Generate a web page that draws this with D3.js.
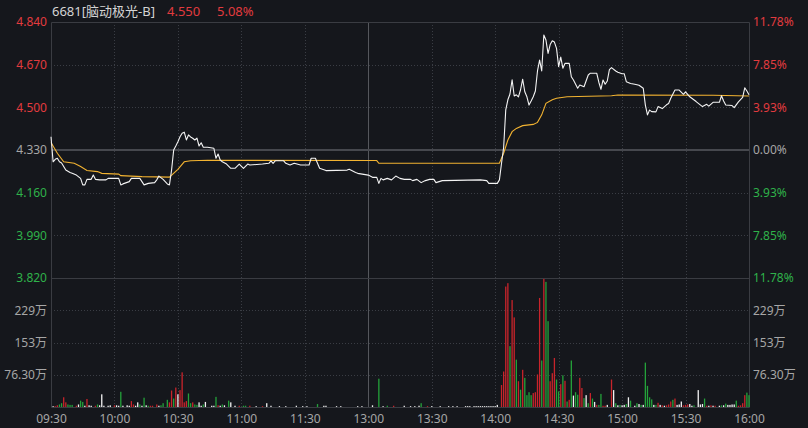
<!DOCTYPE html>
<html>
<head>
<meta charset="utf-8">
<script src="https://cdn.jsdelivr.net/npm/d3@7"></script>
<style>
  html, body { margin: 0; padding: 0; background: #15171c; }
  svg { display: block; font-family: "Noto Sans", "Noto Sans CJK SC", sans-serif; }
</style>
</head>
<body>
<svg id="chart" width="808" height="428"></svg>
<script>
/*****************************************************************************
 *  Data
 */
var STOCK_CODE = "6681";
var STOCK_NAME = "脑动极光-B";
var PREV_CLOSE = 4.330;
var LAST_PRICE = 4.550;

var PRICE_TICKS = [4.840, 4.670, 4.500, 4.330, 4.160, 3.990, 3.820];
var VOL_TICKS = [228.9, 152.6, 76.3];
var VOL_TICK_LABELS = ["229万", "153万", "76.30万"];
var TIME_TICKS = ["09:30", "10:00", "10:30", "11:00", "11:30", "13:00",
                  "13:30", "14:00", "14:30", "15:00", "15:30", "16:00"];

var priceTimes = ["09:30","09:31","09:32","09:33","09:34","09:35","09:36","09:37","09:39","09:40",
  "09:42","09:44","09:45","09:46","09:47","09:49","09:50","09:51","09:53","09:56",
  "09:57","10:02","10:03","10:04","10:07","10:08","10:12","10:13","10:14","10:16",
  "10:19","10:20","10:21","10:23","10:25","10:26","10:27","10:28","10:29","10:30",
  "10:31","10:32","10:33","10:34","10:35","10:36","10:37","10:38","10:39","10:40",
  "10:41","10:42","10:44","10:47","10:48","10:49","10:50","10:51","10:53","10:55",
  "10:57","10:59","11:01","11:03","11:04","11:10","11:13","11:14","11:15","11:16",
  "11:20","11:21","11:23","11:25","11:28","11:32","11:33","11:35","11:36","11:37",
  "11:40","11:50","11:51","11:54","11:55","12:00","13:02","13:04","13:05","13:06",
  "13:07","13:09","13:11","13:13","13:15","13:17","13:20","13:21","13:23","13:25",
  "13:27","13:29","13:31","13:32","13:35","13:53","13:56","13:57","14:01","14:02",
  "14:03","14:04","14:05","14:06","14:07","14:08","14:09","14:10","14:11","14:12",
  "14:13","14:14","14:15","14:16","14:17","14:18","14:19","14:20","14:21","14:22",
  "14:23","14:24","14:25","14:26","14:27","14:28","14:29","14:30","14:31","14:32",
  "14:33","14:35","14:36","14:37","14:39","14:40","14:42","14:44","14:45","14:48",
  "14:49","14:50","14:51","14:52","14:53","14:54","14:55","14:57","14:58","15:00",
  "15:01","15:02","15:04","15:06","15:08","15:09","15:10","15:11","15:12","15:13",
  "15:14","15:16","15:17","15:19","15:21","15:22","15:23","15:25","15:27","15:29",
  "15:30","15:32","15:35","15:38","15:40","15:41","15:43","15:46","15:47","15:48",
  "15:49","15:52","15:53","15:55","15:57","15:58","15:59","16:00"];
var priceValues = [4.383,4.283,4.293,4.297,4.283,4.278,4.264,4.250,4.240,4.237,
  4.230,4.217,4.191,4.191,4.213,4.213,4.230,4.213,4.211,4.211,
  4.217,4.217,4.191,4.195,4.204,4.217,4.217,4.204,4.191,4.197,
  4.200,4.211,4.226,4.213,4.195,4.191,4.250,4.330,4.346,4.363,
  4.383,4.397,4.401,4.370,4.390,4.382,4.377,4.370,4.377,4.346,
  4.359,4.341,4.341,4.337,4.297,4.314,4.290,4.283,4.274,4.257,
  4.257,4.274,4.257,4.274,4.270,4.274,4.277,4.287,4.277,4.287,
  4.287,4.277,4.270,4.277,4.270,4.270,4.297,4.297,4.277,4.257,
  4.248,4.250,4.253,4.240,4.237,4.230,4.221,4.221,4.197,4.217,
  4.211,4.217,4.211,4.226,4.217,4.213,4.213,4.208,4.213,4.200,
  4.208,4.213,4.213,4.200,4.208,4.211,4.208,4.197,4.197,4.211,
  4.277,4.340,4.490,4.530,4.553,4.610,4.545,4.550,4.542,4.570,
  4.612,4.562,4.542,4.509,4.525,4.542,4.565,4.645,4.688,4.645,
  4.788,4.768,4.715,4.750,4.765,4.760,4.735,4.662,4.700,4.656,
  4.675,4.675,4.622,4.609,4.576,4.589,4.582,4.629,4.636,4.636,
  4.600,4.572,4.609,4.592,4.605,4.650,4.658,4.645,4.640,4.634,
  4.634,4.602,4.595,4.592,4.588,4.582,4.576,4.509,4.470,4.489,
  4.483,4.482,4.503,4.495,4.510,4.515,4.536,4.569,4.569,4.552,
  4.562,4.542,4.523,4.503,4.512,4.505,4.520,4.520,4.546,4.525,
  4.509,4.507,4.499,4.522,4.540,4.578,4.565,4.550];

var avgTimes = ["09:30","09:33","09:36","09:41","09:44","09:47","09:52","09:54","10:02","10:03",
  "10:13","10:26","10:30","10:33","10:36","10:44","13:04","13:05","14:02","14:04",
  "14:06","14:08","14:10","14:13","14:18","14:20","14:22","14:24","14:27","14:29",
  "14:34","14:55","14:58","15:43","16:00"];
var avgValues = [4.360,4.317,4.283,4.277,4.264,4.248,4.244,4.237,4.234,4.228,
  4.224,4.222,4.253,4.283,4.287,4.289,4.288,4.277,4.277,4.317,
  4.370,4.403,4.416,4.427,4.432,4.440,4.470,4.516,4.530,4.536,
  4.542,4.546,4.549,4.548,4.545];

// volume in 万 shares; direction: u = up, d = down, e = unchanged
var volTimes = ["09:31","09:32","09:33","09:34","09:35","09:36","09:37","09:38","09:39","09:40",
  "09:42","09:43","09:44","09:45","09:46","09:47","09:48","09:49","09:51","09:52",
  "09:53","09:54","09:55","09:57","09:58","10:00","10:01","10:02","10:03","10:04",
  "10:06","10:07","10:08","10:09","10:10","10:11","10:12","10:13","10:14","10:15",
  "10:16","10:17","10:18","10:20","10:21","10:22","10:23","10:25","10:26","10:27",
  "10:28","10:29","10:30","10:31","10:32","10:33","10:34","10:35","10:36","10:37",
  "10:38","10:39","10:40","10:41","10:42","10:43","10:46","10:47","10:48","10:49",
  "10:50","10:51","10:52","10:54","10:55","10:57","10:59","11:01","11:02","11:04",
  "11:07","11:10","11:12","11:14","11:18","11:21","11:26","11:29","11:31","11:36",
  "11:39","11:40","11:45","11:47","11:55","11:57","13:02","13:05","13:07","13:09",
  "13:12","13:17","13:20","13:22","13:24","13:25","13:28","13:30","13:34","13:38",
  "13:40","13:42","13:46","13:47","13:48","13:50","13:51","13:52","13:53","13:54",
  "13:55","13:56","13:57","13:58","13:59","14:00","14:01","14:03","14:04","14:05",
  "14:06","14:07","14:08","14:09","14:10","14:11","14:12","14:13","14:14","14:15",
  "14:16","14:17","14:18","14:19","14:20","14:21","14:22","14:23","14:24","14:25",
  "14:26","14:27","14:28","14:29","14:30","14:31","14:32","14:33","14:34","14:35",
  "14:36","14:37","14:38","14:39","14:40","14:41","14:42","14:43","14:44","14:45",
  "14:46","14:47","14:48","14:49","14:50","14:51","14:52","14:53","14:55","14:56",
  "14:57","14:58","14:59","15:00","15:01","15:02","15:03","15:04","15:06","15:07",
  "15:08","15:09","15:10","15:11","15:12","15:13","15:14","15:15","15:16","15:17",
  "15:18","15:19","15:20","15:21","15:22","15:23","15:24","15:25","15:26","15:27",
  "15:28","15:29","15:30","15:31","15:32","15:33","15:34","15:36","15:37","15:38",
  "15:39","15:40","15:41","15:42","15:43","15:44","15:46","15:47","15:48","15:49",
  "15:50","15:51","15:52","15:53","15:54","15:55","15:56","15:57","15:58","15:59",
  "16:00"];
var volValues = [2,2,4,6,9,23,11,6,5,5,
  3,6,15,12,3,19,4,3,3,6,
  4,30,3,3,4,4,4,3,36,3,
  4,3,14,6,3,11,6,3,22,4,
  3,3,3,6,3,4,9,17,11,39,
  20,46,30,40,82,11,14,32,9,11,
  6,5,11,3,6,12,3,3,24,4,
  3,6,4,15,11,3,3,3,3,3,
  2,2,9,3,2,2,3,2,2,7,
  3,3,2,2,2,2,4,67,2,3,
  3,3,2,2,3,9,2,2,2,2,
  2,2,2,2,2,2,2,2,2,2,
  2,2,2,2,2,2,5,52,84,285,
  293,144,253,212,112,61,41,88,69,28,
  35,28,33,35,77,258,110,303,296,203,
  61,80,116,65,37,54,75,62,13,17,
  110,27,35,29,69,45,21,28,9,33,
  20,12,5,5,31,3,3,5,65,40,
  9,4,5,4,5,7,23,15,3,9,
  7,5,5,105,50,23,18,5,5,10,
  5,4,3,4,6,13,17,20,5,6,
  13,4,5,6,7,3,4,40,6,7,
  20,3,3,4,3,3,3,4,4,8,
  5,5,6,6,15,3,4,9,28,34,
  28];
var volDirs = ["e","u","u","d","d","u","u","d","d","d",
  "u","e","d","d","e","u","e","e","u","d",
  "e","e","e","e","e","u","e","e","d","e",
  "e","e","u","u","e","e","d","e","d","e",
  "d","u","u","u","e","d","d","d","u","u",
  "d","u","e","u","u","u","u","d","d","u",
  "d","d","e","e","d","e","e","e","d","u",
  "e","d","e","d","e","e","u","d","d","u",
  "e","u","e","e","e","e","e","e","e","d",
  "e","e","e","e","e","e","e","d","e","d",
  "u","e","e","e","e","d","u","e","e","e",
  "e","e","e","e","e","e","e","e","e","e",
  "e","e","e","e","e","e","e","u","u","u",
  "u","d","u","u","d","u","d","u","d","d",
  "d","d","u","u","u","u","d","u","d","d",
  "u","u","u","d","d","u","d","u","d","u",
  "d","e","d","d","u","u","d","e","d","u",
  "d","e","u","d","d","u","u","e","u","e",
  "d","e","d","e","e","d","e","d","e","d",
  "e","d","e","d","d","d","d","e","d","u",
  "e","u","e","u","u","u","d","u","e","e",
  "e","u","u","u","e","e","d","e","e","e",
  "d","u","e","u","e","u","e","d","e","d",
  "e","e","e","e","d","u","u","u","u","d",
  "d"];

/*****************************************************************************
 *  Layout / style constants
 */
var CANVAS_WIDTH = 808;
var CANVAS_HEIGHT = 428;
var PLOT_LEFT = 51;
var PLOT_RIGHT = 749;
var PRICE_TOP = 22;
var PANE_SPLIT = 278;
var VOL_BOTTOM = 407;
var SESSION_MINUTES = 330;
var VOL_MAX = 305.2;

var BG_COLOR = "#15171c";
var FRAME_COLOR = "#3a3c42";
var GRID_COLOR = "#3a3d44";
var NOON_COLOR = "#55575c";
var UP_COLOR = "#e23b3f";
var DOWN_COLOR = "#2fb24a";
var FLAT_COLOR = "#a6a6a6";
var BAR_UP = "#c8242b";
var BAR_DOWN = "#24a23a";
var BAR_FLAT = "#f2f2f2";
var PRICE_LINE_COLOR = "#f4f4f4";
var AVG_LINE_COLOR = "#f2b331";
var LABEL_FONT = 12;

// 09:30 -> 0 ... 12:00 / 13:00 -> 150 ... 16:00 -> 330
function sessionMinute(t) {
    var p = t.split(":");
    var tot = (+p[0]) * 60 + (+p[1]);
    return tot <= 720 ? tot - 570 : tot - 780 + 150;
}

var svg = d3.select("#chart");

var xScale = d3.scaleLinear().domain([0, SESSION_MINUTES]).range([PLOT_LEFT, PLOT_RIGHT]);
var yPrice = d3.scaleLinear().domain([PRICE_TICKS[PRICE_TICKS.length - 1], PRICE_TICKS[0]]).range([PANE_SPLIT, PRICE_TOP]);
var yVol = d3.scaleLinear().domain([0, VOL_MAX]).range([VOL_BOTTOM, PANE_SPLIT]);

svg.append("rect")
    .attr("width", CANVAS_WIDTH)
    .attr("height", CANVAS_HEIGHT)
    .attr("fill", BG_COLOR);

function priceColor(p) {
    if (Math.abs(p - PREV_CLOSE) < 1e-6) return FLAT_COLOR;
    return p > PREV_CLOSE ? UP_COLOR : DOWN_COLOR;
}

// Render gridlines
var gridG = svg.append("g").attr("class", "grid");

PRICE_TICKS.forEach(function (p) {
    if (p === PRICE_TICKS[0] || p === PRICE_TICKS[PRICE_TICKS.length - 1] || p === PREV_CLOSE) return;
    gridG.append("line")
        .attr("x1", PLOT_LEFT).attr("x2", PLOT_RIGHT)
        .attr("y1", Math.round(yPrice(p)) + 0.5).attr("y2", Math.round(yPrice(p)) + 0.5)
        .attr("stroke", GRID_COLOR)
        .attr("stroke-dasharray", "1,2");
});

VOL_TICKS.forEach(function (v) {
    gridG.append("line")
        .attr("x1", PLOT_LEFT).attr("x2", PLOT_RIGHT)
        .attr("y1", Math.round(yVol(v)) + 0.5).attr("y2", Math.round(yVol(v)) + 0.5)
        .attr("stroke", GRID_COLOR)
        .attr("stroke-dasharray", "1,2");
});

TIME_TICKS.forEach(function (t, i) {
    if (i === 0 || i === TIME_TICKS.length - 1) return;
    var xc = Math.round(xScale(sessionMinute(t))) + 0.5;
    var noon = (t === "13:00");
    gridG.append("line")
        .attr("x1", xc).attr("x2", xc)
        .attr("y1", PRICE_TOP).attr("y2", VOL_BOTTOM)
        .attr("stroke", noon ? NOON_COLOR : GRID_COLOR)
        .attr("stroke-dasharray", noon ? null : "1,2");
});

// Frame and previous close line
var frame = [
    [PLOT_LEFT, PRICE_TOP, PLOT_RIGHT, PRICE_TOP],
    [PLOT_LEFT, PANE_SPLIT, PLOT_RIGHT, PANE_SPLIT],
    [PLOT_LEFT, VOL_BOTTOM, PLOT_RIGHT, VOL_BOTTOM],
    [PLOT_LEFT, PRICE_TOP, PLOT_LEFT, VOL_BOTTOM],
    [PLOT_RIGHT, PRICE_TOP, PLOT_RIGHT, VOL_BOTTOM]
];
gridG.selectAll(".frame")
    .data(frame)
    .enter()
    .append("line")
    .attr("class", "frame")
    .attr("x1", d => d[0] + 0.5).attr("y1", d => d[1] + 0.5)
    .attr("x2", d => d[2] + 0.5).attr("y2", d => d[3] + 0.5)
    .attr("stroke", FRAME_COLOR);

gridG.append("line")
    .attr("x1", PLOT_LEFT).attr("x2", PLOT_RIGHT)
    .attr("y1", yPrice(PREV_CLOSE)).attr("y2", yPrice(PREV_CLOSE))
    .attr("stroke", "#46484e")
    .attr("stroke-width", 2);

// Render volume bars
var vols = volTimes.map((t, i) => ({ m: sessionMinute(t), v: volValues[i], dir: volDirs[i] }));
svg.append("g").selectAll("rect")
    .data(vols)
    .enter()
    .append("rect")
    .attr("x", d => xScale(d.m) - 0.65)
    .attr("width", 1.3)
    .attr("y", d => yVol(d.v))
    .attr("height", d => VOL_BOTTOM - yVol(d.v))
    .attr("fill", d => d.dir === "u" ? BAR_UP : (d.dir === "d" ? BAR_DOWN : BAR_FLAT));

// Render average and price lines
var avgData = avgTimes.map((t, i) => [sessionMinute(t), avgValues[i]]);
var priceData = priceTimes.map((t, i) => [sessionMinute(t), priceValues[i]]);
var lineGenerator = d3.line()
    .x(d => xScale(d[0]))
    .y(d => yPrice(d[1]));

svg.append("path")
    .attr("d", lineGenerator(avgData))
    .attr("fill", "none")
    .attr("stroke", AVG_LINE_COLOR)
    .attr("stroke-width", 1.1);

svg.append("path")
    .attr("d", lineGenerator(priceData))
    .attr("fill", "none")
    .attr("stroke", PRICE_LINE_COLOR)
    .attr("stroke-width", 1.1)
    .attr("stroke-linejoin", "round");

// Axes
var leftPriceAxis = d3.axisLeft(yPrice)
    .tickValues(PRICE_TICKS)
    .tickFormat(d3.format(".3f"))
    .tickSize(0)
    .tickPadding(4);
var gLP = svg.append("g")
    .attr("transform", "translate(" + PLOT_LEFT + ",0)")
    .call(leftPriceAxis);

var rightPctAxis = d3.axisRight(yPrice)
    .tickValues(PRICE_TICKS)
    .tickFormat(p => (Math.abs(p - PREV_CLOSE) / PREV_CLOSE * 100).toFixed(2) + "%")
    .tickSize(0)
    .tickPadding(4);
var gRP = svg.append("g")
    .attr("transform", "translate(" + PLOT_RIGHT + ",0)")
    .call(rightPctAxis);

[gLP, gRP].forEach(function (g) {
    g.selectAll("text").attr("fill", d => priceColor(d));
});

var volAxisL = d3.axisLeft(yVol)
    .tickValues(VOL_TICKS)
    .tickFormat((d, i) => VOL_TICK_LABELS[i])
    .tickSize(0)
    .tickPadding(4);
var gLV = svg.append("g")
    .attr("transform", "translate(" + PLOT_LEFT + ",0)")
    .call(volAxisL);
var volAxisR = d3.axisRight(yVol)
    .tickValues(VOL_TICKS)
    .tickFormat((d, i) => VOL_TICK_LABELS[i])
    .tickSize(0)
    .tickPadding(4);
var gRV = svg.append("g")
    .attr("transform", "translate(" + PLOT_RIGHT + ",0)")
    .call(volAxisR);

var timeAxis = d3.axisBottom(xScale)
    .tickValues(TIME_TICKS.map(sessionMinute))
    .tickFormat((d, i) => TIME_TICKS[i])
    .tickSize(0)
    .tickPadding(7);
var gT = svg.append("g")
    .attr("transform", "translate(0," + VOL_BOTTOM + ")")
    .call(timeAxis);

[gLP, gRP, gLV, gRV, gT].forEach(function (g) {
    g.select(".domain").remove();
    g.attr("font-family", null).attr("font-size", LABEL_FONT);
});
[gLV, gRV, gT].forEach(function (g) {
    g.selectAll("text").attr("fill", FLAT_COLOR);
});

// Header
var header = svg.append("text")
    .attr("x", PLOT_LEFT + 1)
    .attr("y", 15.5)
    .attr("font-size", 13);
header.append("tspan")
    .attr("fill", "#d4d4d4")
    .text(STOCK_CODE + "[" + STOCK_NAME + "]");
header.append("tspan")
    .attr("x", 167)
    .attr("fill", priceColor(LAST_PRICE))
    .text(LAST_PRICE.toFixed(3));
header.append("tspan")
    .attr("x", 217)
    .attr("fill", priceColor(LAST_PRICE))
    .text(((LAST_PRICE - PREV_CLOSE) / PREV_CLOSE * 100).toFixed(2) + "%");
</script>
</body>
</html>
